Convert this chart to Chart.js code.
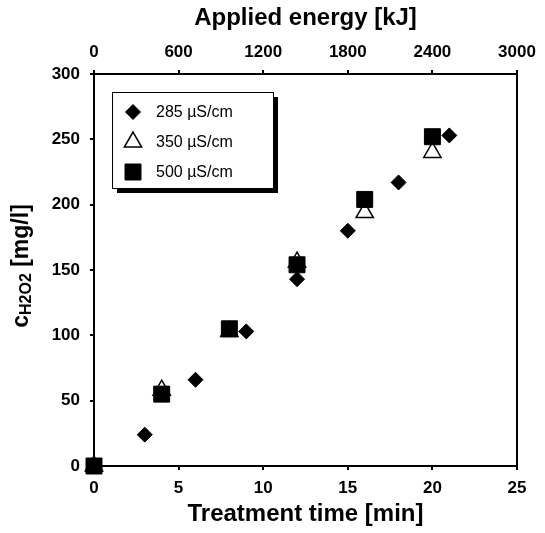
<!DOCTYPE html>
<html>
<head>
<meta charset="utf-8">
<script src="https://cdn.jsdelivr.net/npm/chart.js@4/dist/chart.umd.min.js"></script>
<style>
  html, body { margin: 0; padding: 0; background: #fff; }
  canvas { display: block; }
</style>
</head>
<body>
<canvas id="h2o2Chart" width="545" height="533"></canvas>
<script>
const FONT = "'Liberation Sans', Arial, sans-serif";

// treatment time [min] and H2O2 concentration [mg/l], one pair per conductivity
const time285 = [0, 3, 6, 9, 12, 15, 18, 21];
const conc285 = [0, 24, 66, 103, 143, 180, 217, 253];
const time350 = [0, 4, 8, 12, 16, 20];
const conc350 = [0, 58, 103, 156, 194, 240];
const time500 = [0, 4, 8, 12, 16, 20];
const conc500 = [0, 55, 105, 154, 204, 252];

const seriesLabels = ['285 µS/cm', '350 µS/cm', '500 µS/cm'];

const timeTicks = [0, 5, 10, 15, 20, 25];
const energyTicks = [0, 600, 1200, 1800, 2400, 3000];
const concTicks = [0, 50, 100, 150, 200, 250, 300];

function toPoints(xs, ys) {
    return xs.map((x, i) => ({ x: x, y: ys[i] }));
}

function fixedTicks(list) {
    return function (scale) {
        scale.ticks = list.map(v => ({ value: v }));
    };
}

const tickFont = { family: FONT, size: 17, weight: 'bold' };
const titleFont = { family: FONT, size: 24, weight: 'bold' };
const axisBorder = { color: '#000', width: 2 };
const tickMarks = { drawOnChartArea: false, color: '#000', lineWidth: 2, tickLength: 4 };
const plainLabel = v => String(v);

// legend box with a drop shadow, drawn inside the plot area
const boxLegend = {
    id: 'boxLegend',
    afterDatasetsDraw(chart) {
        const ctx = chart.ctx;
        const area = chart.chartArea;
        const x = area.left + 18, y = area.top + 18, w = 161, h = 96;
        ctx.save();
        ctx.fillStyle = '#000';
        ctx.fillRect(x + 5, y + 5, w, h);
        ctx.fillStyle = '#fff';
        ctx.fillRect(x, y, w, h);
        ctx.strokeStyle = '#000';
        ctx.lineWidth = 1;
        ctx.strokeRect(x + 0.5, y + 0.5, w, h);

        chart.data.datasets.forEach((ds, i) => {
            const row = y + 20 + i * 30;
            ctx.fillStyle = ds.pointBackgroundColor;
            ctx.strokeStyle = ds.pointBorderColor;
            ctx.lineWidth = ds.pointBorderWidth;
            Chart.helpers.drawPoint(ctx, {
                pointStyle: ds.pointStyle,
                radius: ds.pointRadius,
                borderWidth: ds.pointBorderWidth,
                rotation: 0
            }, x + 21, row);
            ctx.fillStyle = '#000';
            ctx.font = '16px ' + FONT;
            ctx.textAlign = 'left';
            ctx.textBaseline = 'middle';
            ctx.fillText(ds.label, x + 44, row + 1);
        });
        ctx.restore();
    }
};

// y title with subscript: c H2O2 [mg/l]
const yTitle = {
    id: 'yTitle',
    afterDraw(chart) {
        const ctx = chart.ctx;
        const area = chart.chartArea;
        const parts = [
            ['c', 'bold 23px ' + FONT, 0],
            ['H2O2', 'bold 16px ' + FONT, 3],
            [' [mg/l]', 'bold 23px ' + FONT, 0]
        ];
        ctx.save();
        ctx.translate(21, (area.top + area.bottom) / 2 - 4);
        ctx.rotate(-Math.PI / 2);
        ctx.fillStyle = '#000';
        ctx.textBaseline = 'alphabetic';
        ctx.textAlign = 'left';
        let total = 0;
        parts.forEach(p => { ctx.font = p[1]; total += ctx.measureText(p[0]).width; });
        let pos = -total / 2;
        parts.forEach(p => {
            ctx.font = p[1];
            ctx.fillText(p[0], pos, 7 + p[2]);
            pos += ctx.measureText(p[0]).width;
        });
        ctx.restore();
    }
};

const ctx = document.getElementById('h2o2Chart').getContext('2d');
const h2o2Chart = new Chart(ctx, {
    type: 'scatter',
    data: {
        datasets: [{
            label: seriesLabels[0],
            data: toPoints(time285, conc285),
            pointStyle: 'rectRot',
            pointRadius: 7.5,
            pointBackgroundColor: '#000',
            pointBorderColor: '#000',
            pointBorderWidth: 1,
            order: 2,
            clip: false
        }, {
            label: seriesLabels[1],
            data: toPoints(time350, conc350),
            pointStyle: 'triangle',
            pointRadius: 10,
            pointBackgroundColor: '#fff',
            pointBorderColor: '#000',
            pointBorderWidth: 1.5,
            order: 1,
            clip: false
        }, {
            label: seriesLabels[2],
            data: toPoints(time500, conc500),
            pointStyle: 'rect',
            pointRadius: 11.3,
            pointBackgroundColor: '#000',
            pointBorderColor: '#000',
            pointBorderWidth: 1,
            order: 0,
            clip: false
        }]
    },
    options: {
        responsive: false,
        animation: false,
        layout: { padding: 0 },
        plugins: {
            legend: { display: false },
            tooltip: { enabled: false }
        },
        scales: {
            x: {
                type: 'linear',
                position: 'bottom',
                min: 0,
                max: 25,
                afterBuildTicks: fixedTicks(timeTicks),
                afterFit: s => { s.height = 67; },
                border: axisBorder,
                grid: tickMarks,
                ticks: { color: '#000', font: tickFont, padding: 8, maxRotation: 0, callback: plainLabel },
                title: { display: true, text: 'Treatment time [min]', color: '#000', font: titleFont, padding: { top: 0, bottom: 4 } }
            },
            x2: {
                type: 'linear',
                position: 'top',
                min: 0,
                max: 3000,
                afterBuildTicks: fixedTicks(energyTicks),
                afterFit: s => { s.height = 74; },
                border: axisBorder,
                grid: tickMarks,
                ticks: { color: '#000', font: tickFont, padding: 7, maxRotation: 0, callback: plainLabel },
                title: { display: true, text: 'Applied energy [kJ]', color: '#000', font: titleFont, padding: { top: 4, bottom: 0 } }
            },
            y: {
                type: 'linear',
                position: 'left',
                min: 0,
                max: 300,
                afterBuildTicks: fixedTicks(concTicks),
                afterFit: s => { s.width = 94; },
                border: axisBorder,
                grid: tickMarks,
                ticks: { color: '#000', font: tickFont, padding: 10, callback: plainLabel }
            },
            y2: {
                type: 'linear',
                position: 'right',
                min: 0,
                max: 300,
                afterFit: s => { s.width = 28; },
                border: axisBorder,
                grid: { display: false },
                ticks: { display: false }
            }
        }
    },
    plugins: [boxLegend, yTitle]
});
</script>
</body>
</html>
